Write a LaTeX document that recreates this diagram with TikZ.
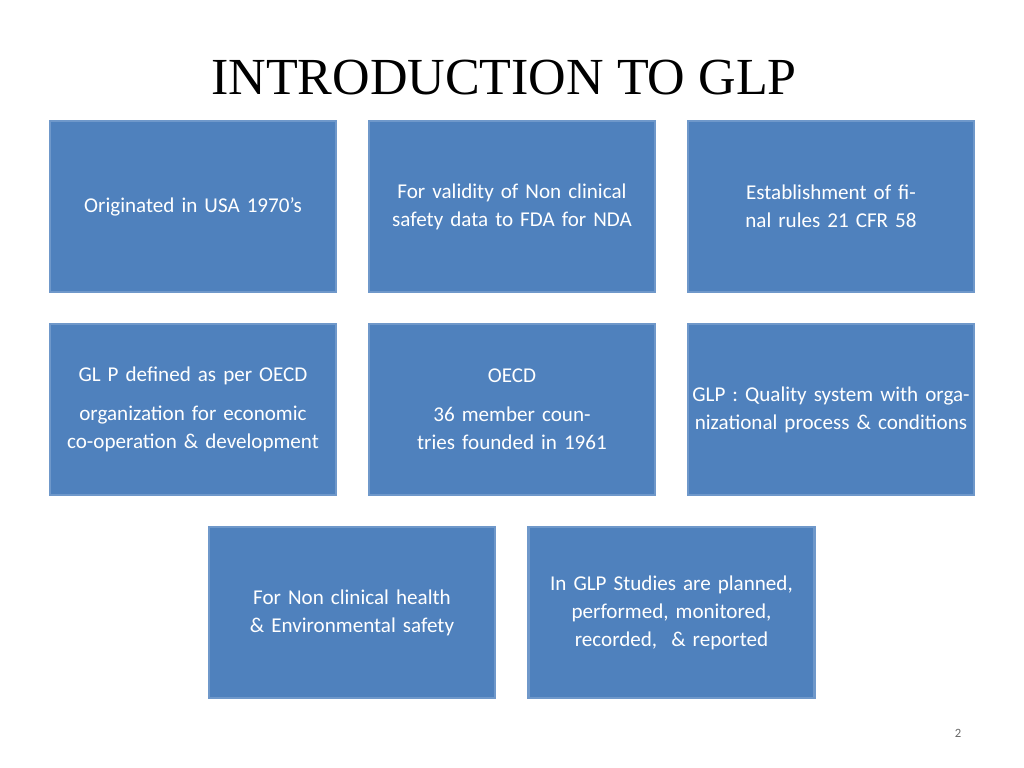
\documentclass[tikz,border=0pt]{standalone}
\usepackage{fontspec}
\setmainfont{Carlito}
\newfontfamily\titlefont{Liberation Serif}
\definecolor{boxblue}{HTML}{4F81BD}
\definecolor{boxedge}{HTML}{6F98CA}
\begin{document}
\begin{tikzpicture}[
  infobox/.style={draw=boxedge, fill=boxblue, line width=0.6pt,
    minimum width=2.86cm, minimum height=1.71cm, inner sep=0pt,
    text width=2.8cm, align=center, text=white,
    font=\fontsize{6}{8}\selectfont},
]
  \useasboundingbox (0,0) rectangle (10.24,-7.68);
  \node[font=\titlefont\fontsize{14.8}{16}\selectfont] (title) at (5.04,-0.78) {INTRODUCTION TO GLP};

  \node[infobox] (origin) at (1.93,-2.065) {Originated in USA 1970’s};
  \node[infobox] (validity) at (5.12,-2.065) {For validity of Non clinical safety data to FDA for NDA};
  \node[infobox] (rules) at (8.31,-2.065) {Establishment of final rules 21 CFR 58};

  \node[infobox] (defined) at (1.93,-4.095) {GL P defined as per OECD\\[3pt] organization for economic co-operation \& development};
  \node[infobox] (oecd) at (5.12,-4.095) {OECD\\[3pt] 36 member countries founded in 1961};
  \node[infobox] (quality) at (8.31,-4.095) {GLP : Quality system with organizational process \& conditions};

  \node[infobox] (safety) at (3.52,-6.125) {For Non clinical health \& Environmental safety};
  \node[infobox] (studies) at (6.715,-6.125) {In GLP Studies are planned, performed, monitored, recorded,~ \& reported};

  \node[text=black!60, font=\fontsize{3.6}{4}\selectfont] (page) at (9.58,-7.33) {2};
\end{tikzpicture}
\end{document}
